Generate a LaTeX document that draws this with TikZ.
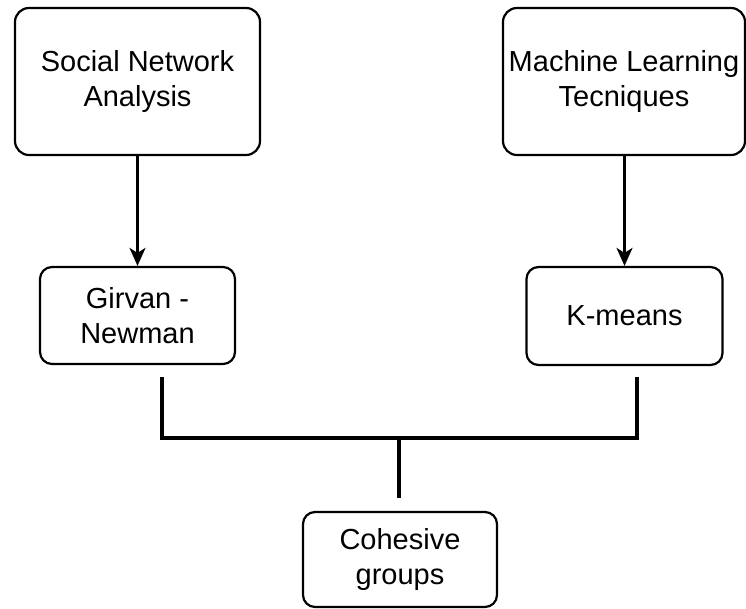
\documentclass[tikz,border=0pt]{standalone}
\usepackage{fontspec}
\setmainfont{Liberation Sans}
\usetikzlibrary{arrows.meta}
\begin{document}
\begin{tikzpicture}[x=1pt,y=-1pt,
  box/.style={draw=black, line width=2.2pt, rounded corners=14pt, fill=white,
    align=center, font=\fontsize{29}{35}\selectfont, inner sep=0pt},
  arr/.style={line width=2.4pt, -{Stealth[length=18pt,width=16pt,inset=5pt]}},
  bracket/.style={line width=4.2pt}]
\useasboundingbox (0,0) rectangle (746,609);
\node[box, minimum width=245pt, minimum height=147pt] (sna) at (137.5,81.5) {Social Network\\Analysis};
\node[box, minimum width=242pt, minimum height=147pt] (ml) at (624,81.5) {Machine Learning\\Tecniques};
\node[box, rounded corners=12pt, minimum width=195pt, minimum height=97pt] (gn) at (137.5,315.5) {Girvan -\\Newman};
\node[box, rounded corners=12pt, minimum width=196pt, minimum height=98pt] (km) at (624.5,316) {K-means};
\node[box, rounded corners=12pt, minimum width=194pt, minimum height=95pt] (cg) at (400,559.5) {Cohesive\\groups};
\draw[arr] (sna.south) -- (gn.north);
\draw[arr] (ml.south -| km.north) -- (km.north);
\coordinate (bl) at (162,377);
\coordinate (blc) at (162,438);
\coordinate (brc) at (637,438);
\coordinate (br) at (637,377);
\coordinate (mid) at (399,438);
\coordinate (stem) at (399,498);
\draw[bracket] (bl) -- (blc) -- (brc) -- (br);
\draw[bracket] (mid) -- (stem);
\end{tikzpicture}
\end{document}
